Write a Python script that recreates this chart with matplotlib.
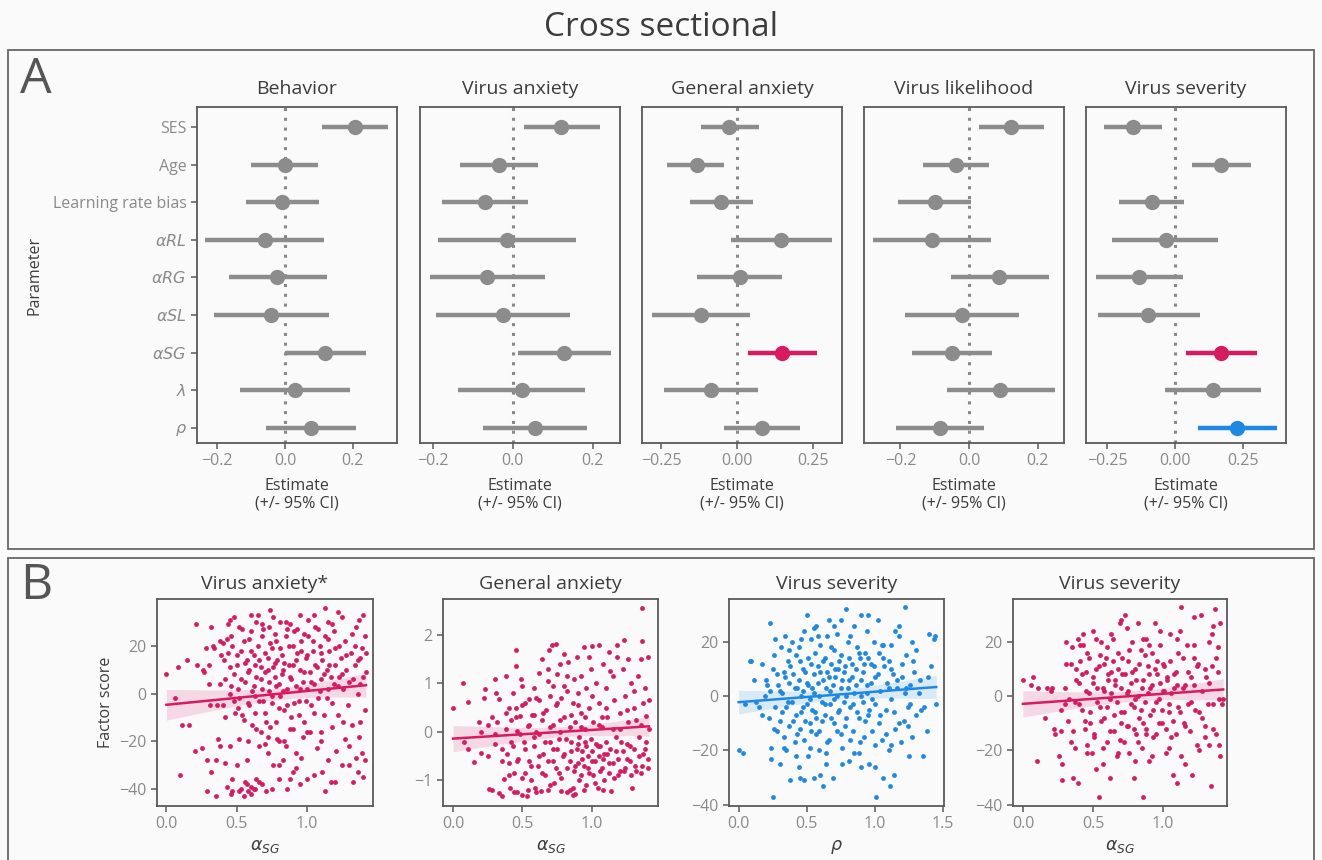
import numpy as np
import matplotlib
matplotlib.use("Agg")
import matplotlib.pyplot as plt
from matplotlib.patches import Rectangle

plt.rcParams['font.family'] = ['Open Sans', 'DejaVu Sans']
plt.rcParams['mathtext.fontset'] = 'dejavusans'

# ---- panel A data: estimates and 95% CI per outcome ----
params = ['SES', 'Age', 'Learning rate bias', r'$\alpha RL$', r'$\alpha RG$',
          r'$\alpha SL$', r'$\alpha SG$', r'$\lambda$', r'$\rho$']
outcomes = ['Behavior', 'Virus anxiety', 'General anxiety', 'Virus likelihood', 'Virus severity']

behavior_est = [0.206, 0.0, -0.01, -0.06, -0.023, -0.042, 0.118, 0.029, 0.076]
behavior_lo = [0.11, -0.10, -0.116, -0.235, -0.167, -0.209, 0.0, -0.132, -0.056]
behavior_hi = [0.304, 0.097, 0.10, 0.116, 0.124, 0.128, 0.238, 0.19, 0.21]

vanx_est = [0.122, -0.035, -0.07, -0.015, -0.064, -0.025, 0.129, 0.023, 0.055]
vanx_lo = [0.027, -0.132, -0.177, -0.188, -0.208, -0.192, 0.012, -0.137, -0.076]
vanx_hi = [0.22, 0.063, 0.039, 0.159, 0.08, 0.144, 0.247, 0.182, 0.187]

ganx_est = [-0.025, -0.133, -0.052, 0.146, 0.009, -0.12, 0.148, -0.084, 0.084]
ganx_lo = [-0.119, -0.229, -0.155, -0.02, -0.132, -0.28, 0.036, -0.239, -0.043]
ganx_hi = [0.071, -0.042, 0.054, 0.313, 0.148, 0.042, 0.262, 0.07, 0.209]

vlik_est = [0.122, -0.037, -0.10, -0.109, 0.088, -0.02, -0.049, 0.091, -0.086]
vlik_lo = [0.028, -0.133, -0.206, -0.279, -0.054, -0.186, -0.165, -0.065, -0.214]
vlik_hi = [0.218, 0.059, 0.005, 0.063, 0.231, 0.144, 0.067, 0.249, 0.042]

vsev_est = [-0.153, 0.168, -0.085, -0.035, -0.131, -0.098, 0.168, 0.139, 0.227]
vsev_lo = [-0.26, 0.061, -0.206, -0.231, -0.292, -0.284, 0.039, -0.039, 0.084]
vsev_hi = [-0.047, 0.276, 0.034, 0.158, 0.029, 0.089, 0.30, 0.315, 0.373]

# highlighted (significant) entries: outcome index -> {param index: colour key}
highlight = {2: {6: 'red'}, 4: {6: 'red', 8: 'blue'}}

# ---- panel B data: scatter points ----
b1_x = [0.0, 0.06, 0.08, 0.1, 0.11, 0.16, 0.15, 0.2, 0.21, 0.22, 0.25, 0.26, 0.27, 0.28, 0.29, 0.29, 0.3, 0.31,
        0.32, 0.32, 0.34, 0.35, 0.35, 0.37, 0.38, 0.38, 0.39, 0.4, 0.4, 0.41, 0.42, 0.43, 0.43, 0.44, 0.45, 0.45,
        0.45, 0.46, 0.46, 0.47, 0.47, 0.48, 0.48, 0.49, 0.5, 0.5, 0.51, 0.52, 0.52, 0.53, 0.54, 0.55, 0.55, 0.56,
        0.56, 0.57, 0.58, 0.58, 0.59, 0.59, 0.6, 0.6, 0.61, 0.62, 0.62, 0.63, 0.63, 0.64, 0.64, 0.65, 0.66, 0.66,
        0.67, 0.67, 0.68, 0.68, 0.69, 0.7, 0.7, 0.71, 0.72, 0.72, 0.73, 0.73, 0.74, 0.74, 0.75, 0.75, 0.76, 0.77,
        0.77, 0.78, 0.78, 0.79, 0.8, 0.8, 0.81, 0.81, 0.82, 0.83, 0.83, 0.84, 0.85, 0.85, 0.86, 0.86, 0.87, 0.88,
        0.88, 0.89, 0.9, 0.9, 0.91, 0.92, 0.92, 0.93, 0.94, 0.95, 0.95, 0.96, 0.97, 0.98, 0.98, 0.99, 1.0, 1.0,
        1.01, 1.02, 1.03, 1.04, 1.05, 1.06, 1.07, 1.08, 1.09, 1.1, 1.1, 1.11, 1.12, 1.13, 1.13, 1.14, 1.15, 1.15,
        1.16, 1.17, 1.18, 1.18, 1.19, 1.2, 1.21, 1.22, 1.22, 1.23, 1.24, 1.25, 1.26, 1.27, 1.27, 1.28, 1.29, 1.3,
        1.31, 1.32, 1.33, 1.33, 1.34, 1.35, 1.36, 1.36, 1.37, 1.37, 1.38, 1.39, 1.39, 1.4, 1.4, 1.41, 1.42, 1.42,
        1.41,
        0.42, 0.44, 0.46, 0.48, 0.5, 0.51, 0.53, 0.54, 0.55, 0.56, 0.57, 0.58, 0.59, 0.6, 0.61, 0.62, 0.63, 0.64,
        0.65, 0.66, 0.67, 0.68, 0.69, 0.7, 0.71, 0.72, 0.73, 0.74, 0.75, 0.76, 0.77, 0.78, 0.79, 0.8, 0.81, 0.82,
        0.83, 0.84, 0.85, 0.86, 0.87, 0.88, 0.89, 0.9, 0.91, 0.92, 0.93, 0.94, 0.95, 0.96, 0.97, 0.98, 0.99, 1.0,
        1.01, 1.02, 1.03, 1.04, 1.05, 1.06, 1.07, 1.08, 1.09, 1.1, 1.11, 1.12, 1.13, 1.14, 1.15, 1.16, 1.17, 1.18,
        1.19, 1.2, 1.22, 1.23, 1.25, 1.26, 1.28, 1.3, 1.32, 1.34, 1.36, 1.38, 1.4, 1.41,
        0.47, 0.53, 0.57, 0.6, 0.63, 0.66, 0.7, 0.75, 0.8, 0.84, 0.88, 0.92, 0.96, 1.0, 1.05, 1.1, 1.2, 1.3,
        1.38, 0.58, 0.64, 0.72, 0.8, 0.9, 0.52, 0.42, 0.36, 0.3, 0.33, 0.38, 0.45, 0.52, 0.6, 0.68, 0.76, 0.86,
        0.95, 1.05, 1.15, 1.25, 1.35]
b1_y = [8, -2, 11, -34, -13, -13, 14, -24, 29, 12, -23, 10, 9, 19, -28, -41, 4, -5,
        28, -33, 19, -43, -28, -19, -22, 4, 16, -5, 21, 14, -29, 23, -39, 29, 0, -22,
        11, -42, 3, 20, -41, 32, 8, -8, 16, -30, -6, -41, -2, 6, 27, -11, -43, -37,
        13, -28, -41, 9, 23, -5, -39, 18, -13, -40, 3, 12, -1, -36, 30, 33, -22, 14,
        -16, 6, -38, 24, -3, -8, 17, -41, 10, -25, 28, 1, 35, -14, 19, -4, -30, 7,
        13, -12, 22, -19, 4, -36, 30, -1, 16, -28, 10, -7, 24, -22, -40, 2, 12, -15,
        29, 6, -33, 20, -4, 14, -25, 27, -9, 2, -38, 18, -18, 9, 25, -3, -36, 16,
        31, -16, 5, 22, -8, 12, -23, 27, 1, -16, 17, -33, 8, 36, -41, -2, 23, -28,
        12, -37, 29, -14, 4, 19, -24, 34, -9, 7, 15, -30, 2, 22, -19, 10, -5, -30,
        17, -13, -37, 6, 20, -27, 14, -33, 31, -18, 4, 19, -25, -35, 33, -7, 9, 17,
        -28,
        6, 17, 24, -3, 12, 2, 18, -9, 22, 5, 14, -4, 10, 26, 1, 16, -8, 7,
        20, -3, 11, 2, 27, 9, -12, 15, 5, 21, -1, 11, 25, 3, 14, -6, 19, 8,
        1, 13, 30, -5, 20, 7, -10, 12, 26, 3, 17, -3, 10, 22, 5, -12, 15, 2,
        24, 9, -5, 18, 4, 28, 11, -2, 20, 6, 14, -9, 24, 10, 2, 18, 7, -4,
        26, 12, 3, 20, 8, -12, 16, 5, 25, 12, 0, 15, 7, 24,
        -36, -40, -38, -42, -40, -37, -21, -40, -30, -20, -36, -31, -27, -16, -34, -20, -37, -22,
        -12, -20, -15, -18, -20, -15, -19, -10, -5, 12, 20, 22, 31, 28, 33, 29, 32, 27,
        33, 33, 30, 32, 28]

b2_x = [0.0, 0.07, 0.08, 0.11, 0.11, 0.15, 0.19, 0.2, 0.22, 0.23, 0.25, 0.26, 0.28, 0.28, 0.3, 0.3, 0.31, 0.32,
        0.33, 0.33, 0.35, 0.35, 0.37, 0.38, 0.38, 0.39, 0.4, 0.4, 0.41, 0.42, 0.43, 0.43, 0.44, 0.45, 0.45, 0.45,
        0.46, 0.46, 0.47, 0.48, 0.49, 0.5, 0.5, 0.51, 0.52, 0.52, 0.53, 0.54, 0.55, 0.55, 0.56, 0.57, 0.58, 0.58,
        0.59, 0.6, 0.61, 0.62, 0.62, 0.63, 0.64, 0.64, 0.65, 0.66, 0.67, 0.68, 0.68, 0.69, 0.7, 0.7, 0.71, 0.72,
        0.72, 0.73, 0.74, 0.74, 0.75, 0.75, 0.76, 0.77, 0.77, 0.78, 0.78, 0.79, 0.8, 0.8, 0.81, 0.82, 0.82, 0.83,
        0.84, 0.84, 0.85, 0.86, 0.86, 0.87, 0.88, 0.88, 0.89, 0.9, 0.9, 0.91, 0.92, 0.92, 0.93, 0.94, 0.94, 0.95,
        0.96, 0.96, 0.97, 0.98, 0.99, 1.0, 1.0, 1.01, 1.02, 1.03, 1.04, 1.05, 1.05, 1.06, 1.07, 1.08, 1.08, 1.09,
        1.1, 1.11, 1.12, 1.13, 1.14, 1.15, 1.16, 1.17, 1.18, 1.18, 1.19, 1.2, 1.21, 1.22, 1.23, 1.23, 1.24, 1.25,
        1.26, 1.26, 1.27, 1.28, 1.29, 1.3, 1.31, 1.32, 1.33, 1.34, 1.35, 1.35, 1.36, 1.36, 1.37, 1.37, 1.38, 1.39,
        1.39, 1.4, 1.4, 1.41, 1.41,
        0.4, 0.42, 0.44, 0.46, 0.48, 0.5, 0.52, 0.54, 0.56, 0.58, 0.6, 0.62, 0.64, 0.66, 0.68, 0.7, 0.72, 0.74,
        0.76, 0.78, 0.8, 0.82, 0.84, 0.85, 0.86, 0.87, 0.88, 0.89, 0.9, 0.91, 0.92, 0.93, 0.94, 0.95, 0.96, 0.97,
        0.98, 0.99, 1.0, 1.01, 1.02, 1.03, 1.04, 1.05, 1.06, 1.07, 1.08, 1.09, 1.1, 1.11, 1.12, 1.13, 1.15, 1.16,
        1.17, 1.19, 1.2, 1.22, 1.24, 1.25, 1.27, 1.28, 1.3, 1.32, 1.34, 1.36, 1.38, 1.4,
        0.45, 0.5, 0.55, 0.6, 0.65, 0.7, 0.75, 0.8, 0.85, 0.9, 0.95, 1.0, 1.05, 1.1, 1.15, 1.2, 1.25, 1.3,
        1.35, 0.62, 0.77, 0.92, 1.07, 0.35, 0.3, 0.25, 0.2, 0.38, 0.68, 0.82, 0.98, 1.12, 0.72, 0.58]
b2_y = [0.5, 1.02, -0.2, 0.62, -0.35, -0.62, 0.2, -0.43, 0.7, 0.88, -0.5, -1.17, 0.3, -1.2, -0.05, 1.1, 0.8, 0.2,
        -1.27, 0.68, -0.35, -1.32, -0.98, 1.16, 0.05, -0.45, 0.5, -0.65, -1.15, 0.25, 0.8, -0.3, -0.85, 1.7, 1.37, 0.5,
        -1.25, 0.02, -0.55, 0.33, 1.1, -1.3, 0.95, -0.2, -0.85, 0.6, -1.33, 0.12, -0.6, 0.67, -1.0, 0.35, -0.3, 0.9,
        -1.15, 0.0, -0.7, 0.65, 1.22, -1.22, 1.5, 0.25, -0.45, -0.9, 0.45, -1.2, 1.05, 1.7, -0.2, 0.75, 1.8, -0.6,
        0.15, -1.05, 1.82, 0.55, -0.35, 1.2, -0.85, 0.0, 1.4, 0.7, -1.22, -0.5, 0.3, 1.6, -0.15, -0.75, 0.85, 1.45,
        -1.2, 0.1, -0.4, 0.6, -1.3, 1.1, -0.7, 0.2, 1.55, -0.25, 0.8, -1.0, 1.15, 0.4, -0.55, 1.75, -1.2, 0.05,
        0.9, -0.3, -0.75, 0.5, 1.3, -0.6, 1.78, 0.2, -1.05, 1.0, -0.3, 1.8, 0.6, -0.8, 0.1, 1.4, -1.2, -0.45,
        0.9, 0.3, -0.65, 1.25, -1.22, 0.05, 0.65, -0.4, 1.8, 1.55, -0.9, 0.4, -0.2, 1.3, 1.9, -0.8, 0.75, -0.55,
        1.5, 0.2, -0.3, 1.0, -1.15, 0.5, -0.7, 0.25, 1.15, -0.1, 1.5, -0.85, 2.55, 1.88, 0.6, -0.45, 0.9, -0.2,
        0.32, 1.55, -0.75, 0.05, 0.65,
        -0.9, -0.2, -1.25, -0.6, -0.05, -0.95, -0.35, -1.2, -0.7, -0.1, -1.25, -0.5, -0.85, -0.2, -0.6, -1.1, -0.35, -0.75,
        -0.15, -0.95, -0.45, -1.25, -0.6, -0.2, -1.15, -0.8, -1.28, -0.35, -0.65, -0.1, -0.9, -0.4, -0.7, -0.2, -1.1, -0.5,
        -0.85, -0.15, -0.4, -0.9, -0.6, -0.25, -1.15, -0.5, -0.3, -0.75, -0.55, -1.0, -0.2, -0.45, -0.85, -0.35, -0.65, -0.95,
        -0.1, -0.55, -0.8, -0.4, -0.75, -0.25, -0.6, -0.9, -0.35, -0.8, -0.5, -0.7, -0.35, -0.55,
        0.3, 0.55, 0.15, 0.7, 0.4, 0.1, 0.6, 0.95, 0.35, 0.55, 0.3, 0.75, 0.15, 0.5, 1.15, 0.05, 0.45, 0.85,
        0.15, -0.05, 0.25, 0.1, 0.3, -0.6, -0.25, 0.15, 0.0, 0.4, 1.3, 1.15, 1.55, 1.65, 0.95, 0.35]

b3_x = [0.0, 0.03, 0.05, 0.08, 0.09, 0.11, 0.13, 0.17, 0.17, 0.19, 0.2, 0.22, 0.23, 0.23, 0.24, 0.24, 0.25, 0.25,
        0.26, 0.27, 0.27, 0.28, 0.29, 0.3, 0.3, 0.31, 0.32, 0.33, 0.33, 0.34, 0.35, 0.35, 0.36, 0.37, 0.37, 0.38,
        0.39, 0.39, 0.4, 0.41, 0.42, 0.42, 0.43, 0.44, 0.44, 0.45, 0.46, 0.47, 0.47, 0.48, 0.48, 0.49, 0.5, 0.5,
        0.51, 0.51, 0.52, 0.53, 0.53, 0.54, 0.55, 0.55, 0.56, 0.57, 0.57, 0.58, 0.59, 0.59, 0.6, 0.61, 0.62, 0.62,
        0.63, 0.63, 0.64, 0.65, 0.65, 0.66, 0.66, 0.67, 0.68, 0.68, 0.69, 0.7, 0.7, 0.71, 0.72, 0.72, 0.73, 0.74,
        0.75, 0.75, 0.76, 0.77, 0.78, 0.79, 0.79, 0.8, 0.81, 0.81, 0.82, 0.83, 0.84, 0.85, 0.85, 0.86, 0.87, 0.88,
        0.89, 0.9, 0.9, 0.91, 0.92, 0.93, 0.94, 0.95, 0.95, 0.96, 0.97, 0.98, 0.99, 1.0, 1.0, 1.01, 1.02, 1.03,
        1.04, 1.05, 1.05, 1.06, 1.07, 1.08, 1.09, 1.1, 1.1, 1.11, 1.12, 1.12, 1.13, 1.14, 1.15, 1.15, 1.16, 1.18,
        1.19, 1.2, 1.21, 1.22, 1.22, 1.23, 1.24, 1.25, 1.26, 1.27, 1.27, 1.28, 1.3, 1.33, 1.34, 1.35, 1.38, 1.39,
        1.4, 1.41, 1.43, 1.44, 1.45,
        0.3, 0.32, 0.34, 0.36, 0.38, 0.4, 0.41, 0.43, 0.44, 0.45, 0.46, 0.47, 0.48, 0.49, 0.5, 0.51, 0.52, 0.53,
        0.54, 0.55, 0.56, 0.57, 0.58, 0.59, 0.6, 0.61, 0.62, 0.63, 0.64, 0.65, 0.66, 0.67, 0.68, 0.69, 0.7, 0.71,
        0.72, 0.73, 0.74, 0.75, 0.76, 0.77, 0.78, 0.79, 0.8, 0.81, 0.82, 0.83, 0.84, 0.85, 0.86, 0.87, 0.88, 0.89,
        0.9, 0.91, 0.92, 0.93, 0.94, 0.95, 0.96, 0.97, 0.98, 0.99, 1.0, 1.02, 1.04, 1.06, 1.08, 1.1, 1.12, 1.14,
        1.16, 1.18, 1.2, 1.23, 1.26, 1.29, 1.32, 1.36,
        0.26, 0.28, 0.33, 0.37, 0.42, 0.46, 0.52, 0.58, 0.64, 0.7, 0.76, 0.82, 0.88, 0.94, 1.0, 1.06, 1.12, 1.18,
        1.24, 1.3, 0.21, 0.15, 0.45, 0.6, 0.75, 0.9, 1.03, 0.55]
b3_y = [-20, -21, -3, 13, 13, 6, -2, 12, -7, 0, 6, -8, 27, 2, -19, -23, -37, 10,
        15, -4, 21, -13, 4, -25, -9, 18, 1, -15, 9, 22, -4, -20, 13, -11, 5, -31,
        20, -2, 8, -17, 15, -7, 3, 18, -26, -12, 0, 10, -4, -31, 24, -9, 5, 30,
        -22, 14, -1, 21, -13, 3, -30, 8, -6, 26, -14, 11, -20, 0, 19, -9, 6, -33,
        14, -3, -25, 9, 22, -16, 28, 2, -8, 12, -30, 17, -1, 7, 23, -13, 10, -5,
        3, 15, -19, 9, -11, 32, 0, 20, -24, 6, -16, 12, -3, 26, -21, 4, 18, -8,
        14, 0, -26, 9, -15, 16, 4, 30, -7, -25, 12, -1, 20, -18, 7, -37, 28, -10,
        2, 19, -16, -30, 11, -5, 5, -20, 13, -33, 19, -1, 8, -29, 24, -12, 3, 26,
        -17, 7, -9, 33, 1, 15, -4, -22, 4, 20, -15, 13, -7, 6, -5, -22, -13, 7,
        23, 11, 21, 22, -3,
        2, -6, 7, -2, 11, -9, 3, -14, 6, 13, -6, 2, -16, 9, -3, 4, -10, 12,
        -5, 1, 16, -8, 5, -13, 9, -2, 13, -7, 3, -17, 7, -3, 18, 4, -10, 10,
        0, -6, 13, -14, 6, -2, 11, -8, 3, 14, -4, 7, -13, 1, 10, -6, 16, -17,
        6, -2, 12, -9, 1, 14, -5, 5, -13, 11, -3, 8, -7, 14, -14, 3, 10, -6,
        6, -10, 12, 3, -3, 9, 1, -4,
        -12, 8, -19, 17, -22, 21, -19, 22, -21, 26, -25, 22, -21, 24, -26, 19, -18, 22,
        -11, 17, 4, -4, -30, -29, 28, 30, 16, 25]

b4_x = [0.0, 0.06, 0.07, 0.1, 0.11, 0.16, 0.17, 0.2, 0.21, 0.22, 0.23, 0.26, 0.27, 0.27, 0.28, 0.28, 0.3, 0.31,
        0.31, 0.33, 0.34, 0.35, 0.36, 0.37, 0.37, 0.38, 0.39, 0.39, 0.4, 0.41, 0.41, 0.42, 0.43, 0.44, 0.45, 0.46,
        0.46, 0.47, 0.48, 0.49, 0.5, 0.5, 0.51, 0.52, 0.53, 0.54, 0.54, 0.55, 0.56, 0.57, 0.58, 0.58, 0.59, 0.6,
        0.61, 0.62, 0.62, 0.63, 0.64, 0.65, 0.66, 0.67, 0.68, 0.69, 0.7, 0.7, 0.71, 0.72, 0.73, 0.74, 0.75, 0.75,
        0.76, 0.77, 0.78, 0.79, 0.79, 0.8, 0.81, 0.82, 0.82, 0.83, 0.84, 0.85, 0.86, 0.86, 0.87, 0.88, 0.88, 0.89,
        0.9, 0.91, 0.92, 0.93, 0.94, 0.95, 0.96, 0.97, 0.98, 0.99, 1.0, 1.01, 1.02, 1.03, 1.04, 1.05, 1.06, 1.07,
        1.08, 1.09, 1.1, 1.11, 1.12, 1.13, 1.13, 1.14, 1.15, 1.16, 1.17, 1.18, 1.19, 1.2, 1.21, 1.22, 1.22, 1.23,
        1.24, 1.25, 1.26, 1.27, 1.28, 1.3, 1.31, 1.32, 1.33, 1.33, 1.34, 1.35, 1.36, 1.36, 1.37, 1.38, 1.38, 1.39,
        1.4, 1.4, 1.41, 1.41, 1.42, 1.43,
        0.4, 0.42, 0.44, 0.45, 0.47, 0.48, 0.5, 0.51, 0.52, 0.53, 0.55, 0.56, 0.57, 0.58, 0.6, 0.61, 0.62, 0.63,
        0.64, 0.65, 0.66, 0.67, 0.68, 0.69, 0.7, 0.71, 0.72, 0.73, 0.74, 0.75, 0.76, 0.77, 0.78, 0.79, 0.8, 0.81,
        0.82, 0.83, 0.84, 0.85, 0.86, 0.87, 0.88, 0.89, 0.9, 0.91, 0.92, 0.93, 0.94, 0.95, 0.96, 0.97, 0.98, 0.99,
        1.0, 1.01, 1.02, 1.03, 1.04, 1.05, 1.06, 1.07, 1.08, 1.09, 1.1, 1.11, 1.12, 1.14, 1.16, 1.18, 1.2, 1.22,
        1.24, 1.26, 1.28, 1.3, 1.33, 1.36, 1.39,
        0.3, 0.32, 0.34, 0.36, 0.38, 0.43, 0.46, 0.52, 0.57, 0.63, 0.68, 0.74, 0.8, 0.86, 0.92, 0.98, 1.04, 1.1,
        1.16, 1.22, 1.3, 1.35, 0.6, 0.7, 0.9]
b4_y = [6, 4, 7, -24, 3, -8, 3, 2, 3, -12, -14, -22, -5, -13, -25, -31, -3, 20,
        12, -1, -17, 18, -30, -2, -19, 10, 21, -32, 5, 13, 19, -5, 23, -9, 9, -18,
        16, 1, -10, -21, 7, 24, -14, -27, 3, -37, 11, -4, 20, -25, -8, 2, 14, -17,
        6, -30, -1, 9, 21, -13, 4, -22, 16, 27, -6, 28, 8, -17, 30, 1, 13, -11,
        -21, 5, 20, -30, -4, 10, -14, 0, 27, -8, 17, -19, -37, 6, -2, 21, -12, 11,
        -24, 3, 16, -5, 27, -14, 8, -1, 19, -10, 12, 2, -21, 6, -6, 23, -15, -29,
        3, 9, -32, -4, 24, 33, -22, 14, -10, 4, 19, -3, -13, 7, -29, 29, 19, -5,
        -18, 12, -20, 30, -8, 10, 7, -3, 20, -18, -33, 11, 26, -12, 32, -14, 14, 18,
        -18, -1, 27, -22, -3, -1,
        -3, 8, -12, 2, 14, -6, 5, -15, 10, -2, 15, -9, 3, 12, -4, 8, -13, 1,
        13, -7, 6, -2, 10, -16, 3, 14, -6, 8, -11, 2, 17, -3, 9, -12, -1, 6,
        -17, 12, -5, 3, -10, 15, -14, 1, 8, -7, 4, -15, 10, -2, 13, -10, 5, -5,
        2, 11, -12, 7, -3, 13, 1, -9, 8, -14, 4, 16, -6, 3, -11, 9, -2, 4,
        11, -6, 2, -11, 5, -3, 9,
        3, -9, 12, -13, 6, 19, -21, 21, -19, 23, -21, 25, -24, 21, -22, 24, -19, 21,
        -25, 14, -15, 23, 18, -10, 19]

scatter_titles = ['Virus anxiety*', 'General anxiety', 'Virus severity', 'Virus severity']
scatter_xlabels = [r'$\alpha_{SG}$', r'$\alpha_{SG}$', r'$\rho$', r'$\alpha_{SG}$']

RED = '#d81b60'
BLUE = '#1e88e5'
GREY = '#8c8c8c'
DARK = '#3c3c3c'
TICK = '#8a8a8a'
SPINE = '#5a5a5a'
colours = {'red': RED, 'blue': BLUE}

W, H = 1322, 860


def px_axes(fig, l, t, r, b):
    return fig.add_axes([l / W, 1 - b / H, (r - l) / W, (b - t) / H])


def style_axes(ax):
    ax.set_facecolor('#fafafa')
    for s in ax.spines.values():
        s.set_color(SPINE)
        s.set_linewidth(1.3)
    ax.tick_params(colors=SPINE, labelcolor=TICK, labelsize=11.5, length=4, width=1.1)


fig = plt.figure(figsize=(W / 100, H / 100), dpi=100)
fig.patch.set_facecolor('#fafafa')

fig.text(0.5, 1 - 27 / H, 'Cross sectional', ha='center', va='center', fontsize=24, color=DARK)

# panel frames
fig.add_artist(Rectangle((8 / W, 1 - 549 / H), 1306 / W, 499 / H, transform=fig.transFigure,
                         fill=False, edgecolor='#666666', lw=1.3))
fig.add_artist(Rectangle((8 / W, -0.05), 1306 / W, 0.05 + 1 - 558 / H, transform=fig.transFigure,
                         fill=False, edgecolor='#666666', lw=1.3))
fig.text(20 / W, 1 - 80 / H, 'A', fontsize=36, color='#555555', va='center', ha='left')
fig.text(20 / W, 1 - 586 / H, 'B', fontsize=36, color='#555555', va='center', ha='left')

# ---- panel A ----
est_all = [behavior_est, vanx_est, ganx_est, vlik_est, vsev_est]
lo_all = [behavior_lo, vanx_lo, ganx_lo, vlik_lo, vsev_lo]
hi_all = [behavior_hi, vanx_hi, ganx_hi, vlik_hi, vsev_hi]
xlims = [(-0.26, 0.33), (-0.233, 0.269), (-0.313, 0.346), (-0.306, 0.276), (-0.327, 0.406)]
xticks = [[-0.2, 0.0, 0.2], [-0.2, 0.0, 0.2], [-0.25, 0.0, 0.25], [-0.2, 0.0, 0.2], [-0.25, 0.0, 0.25]]
lefts = [197, 420, 642, 864, 1086]

rows = np.arange(len(params))
for k in range(5):
    ax = px_axes(fig, lefts[k], 107, lefts[k] + 200, 443)
    style_axes(ax)
    ax.axvline(0, color='#888888', ls=(0, (1, 2.2)), lw=2.2, zorder=1)
    for i in rows:
        c = colours[highlight[k][i]] if (k in highlight and i in highlight[k]) else GREY
        ax.plot([lo_all[k][i], hi_all[k][i]], [i, i], color=c, lw=3.2, solid_capstyle='butt', zorder=2)
        ax.plot(est_all[k][i], i, 'o', color=c, ms=10, zorder=3)
    ax.set_ylim(8.4, -0.53)
    ax.set_xlim(*xlims[k])
    ax.set_xticks(xticks[k])
    ax.set_title(outcomes[k], fontsize=14, color=DARK, pad=9)
    ax.set_xlabel('Estimate\n(+/- 95% CI)', fontsize=11.5, color=DARK, labelpad=6, linespacing=1.15)
    if k == 0:
        ax.set_yticks(rows)
        ax.set_yticklabels(params)
        ax.set_ylabel('Parameter', fontsize=11.5, color=DARK)
        ax.yaxis.set_label_coords(-(197 - 42) / 200, 0.5)
    else:
        ax.set_yticks([])

# ---- panel B ----
xs = [b1_x, b2_x, b3_x, b4_x]
ys = [b1_y, b2_y, b3_y, b4_y]
s_colours = [RED, RED, BLUE, RED]
s_boxes = [(157, 373), (443, 658), (729, 944), (1013, 1227)]
s_xlims = [(-0.067, 1.47), (-0.072, 1.475), (-0.071, 1.507), (-0.071, 1.457)]
s_ylims = [(-47.1, 39.6), (-1.53, 2.745), (-40.5, 35.8), (-40.5, 35.8)]
s_yticks = [[-40, -20, 0, 20], [-1, 0, 1, 2], [-40, -20, 0, 20], [-40, -20, 0, 20]]
s_xticks = [[0, 0.5, 1.0], [0, 0.5, 1.0], [0, 0.5, 1.0, 1.5], [0, 0.5, 1.0]]

for k in range(4):
    l, r = s_boxes[k]
    ax = px_axes(fig, l, 599, r, 806)
    style_axes(ax)
    x = np.array(xs[k], dtype=float)
    y = np.array(ys[k], dtype=float)
    col = s_colours[k]
    ax.scatter(x, y, s=12, color=col, linewidths=0, zorder=2)
    # OLS fit with 95% confidence band
    n = len(x)
    slope, icpt = np.polyfit(x, y, 1)
    resid = y - (slope * x + icpt)
    s2 = np.sum(resid ** 2) / (n - 2)
    xg = np.linspace(x.min(), x.max(), 100)
    se = np.sqrt(s2 * (1 / n + (xg - x.mean()) ** 2 / np.sum((x - x.mean()) ** 2)))
    yg = slope * xg + icpt
    ax.fill_between(xg, yg - 1.97 * se, yg + 1.97 * se, color=col, alpha=0.15, lw=0, zorder=3)
    ax.plot(xg, yg, color=col, lw=1.8, zorder=4)
    ax.set_xlim(*s_xlims[k])
    ax.set_ylim(*s_ylims[k])
    ax.set_xticks(s_xticks[k])
    ax.set_yticks(s_yticks[k])
    ax.set_title(scatter_titles[k], fontsize=14, color=DARK, pad=7)
    ax.set_xlabel(scatter_xlabels[k], fontsize=12.5, color=DARK, labelpad=4)
    if k == 0:
        ax.set_ylabel('Factor score', fontsize=11.5, color=DARK)

fig.savefig('out.png', dpi=100, facecolor=fig.get_facecolor())
